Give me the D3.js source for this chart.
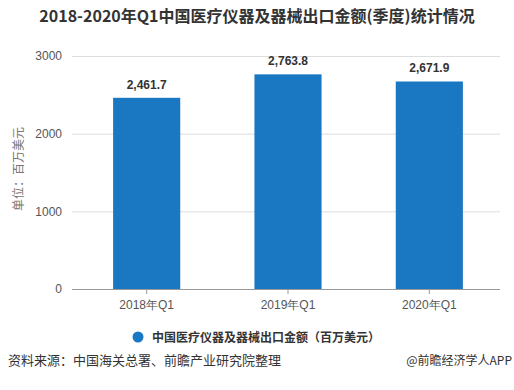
<!DOCTYPE html>
<html>
<head>
<meta charset="utf-8">
<script src="https://cdn.jsdelivr.net/npm/d3@7"></script>
<style>
  body { margin: 0; background: #fff; }
  svg { font-family: "Microsoft YaHei", "Noto Sans CJK SC", sans-serif; }
</style>
</head>
<body>
<div id="chart"></div>
<script>
// data
const categories = ["2018年Q1", "2019年Q1", "2020年Q1"];
const exportValues = [2461.7, 2763.8, 2671.9];
const yTicks = [0, 1000, 2000, 3000];
const seriesName = "中国医疗仪器及器械出口金额（百万美元）";

const W = 514, H = 390;
const plot = {left: 76, right: 500, top: 56, bottom: 289};
const barColor = "#1a78c2";

const svg = d3.select("#chart")
    .append("svg")
    .attr("width", W)
    .attr("height", H);

// title
svg.append("text")
    .attr("x", W / 2)
    .attr("y", 22)
    .attr("text-anchor", "middle")
    .style("font-size", "16px")
    .style("font-weight", "bold")
    .style("fill", "#333")
    .text("2018-2020年Q1中国医疗仪器及器械出口金额(季度)统计情况");

const x = d3.scaleBand()
    .domain(categories)
    .range([plot.left, plot.right])
    .paddingInner(0.525)
    .paddingOuter(0.2625);

const y = d3.scaleLinear()
    .domain([0, 3000])
    .range([plot.bottom, plot.top]);

// gridlines + left labels
const yAxis = svg.append("g")
    .attr("transform", "translate(" + plot.right + ",0)")
    .call(d3.axisLeft(y).tickValues(yTicks).tickFormat(d3.format("d"))
        .tickSize(plot.right - 72).tickPadding(10));
yAxis.select(".domain").remove();
yAxis.selectAll(".tick line").attr("stroke", "#ddd");
yAxis.selectAll(".tick text")
    .style("font-size", "12px")
    .style("fill", "#555")
    .style("font-family", "Arial, 'Liberation Sans', sans-serif");

// bars
svg.selectAll(".bar")
    .data(exportValues)
    .join("rect")
    .attr("class", "bar")
    .attr("x", (d, i) => x(categories[i]))
    .attr("y", d => y(d))
    .attr("width", x.bandwidth())
    .attr("height", d => y(0) - y(d))
    .attr("fill", barColor);

// value labels
svg.selectAll(".val")
    .data(exportValues)
    .join("text")
    .attr("class", "val")
    .attr("x", (d, i) => x(categories[i]) + x.bandwidth() / 2)
    .attr("y", d => y(d) - 9)
    .attr("text-anchor", "middle")
    .style("font-size", "12px")
    .style("font-weight", "bold")
    .style("fill", "#333")
    .style("font-family", "Arial, 'Liberation Sans', sans-serif")
    .text(d => d3.format(",.1f")(d));

// x axis
const xAxis = svg.append("g")
    .attr("transform", "translate(0," + plot.bottom + ")")
    .call(d3.axisBottom(x).tickSize(5).tickPadding(6).tickSizeOuter(0));
xAxis.select(".domain").attr("stroke", "#999").attr("d", "M72,0.5H" + plot.right);
xAxis.selectAll(".tick line").attr("stroke", "#999");
xAxis.selectAll(".tick text")
    .style("font-size", "12px")
    .style("fill", "#555");

// y axis title
svg.append("text")
    .attr("transform", "translate(23,169) rotate(-90)")
    .attr("text-anchor", "middle")
    .style("font-size", "12px")
    .style("fill", "#777")
    .text("单位：百万美元");

// legend
svg.append("circle")
    .attr("cx", 138)
    .attr("cy", 337)
    .attr("r", 5.5)
    .attr("fill", barColor);
svg.append("text")
    .attr("x", 152)
    .attr("y", 341.5)
    .style("font-size", "12px")
    .style("font-weight", "bold")
    .style("fill", "#333")
    .text(seriesName);

// footer
svg.append("text")
    .attr("x", 8)
    .attr("y", 365)
    .style("font-size", "13px")
    .style("fill", "#333")
    .text("资料来源：中国海关总署、前瞻产业研究院整理");
svg.append("text")
    .attr("x", 512)
    .attr("y", 365)
    .attr("text-anchor", "end")
    .style("font-size", "12px")
    .style("fill", "#333")
    .text("@前瞻经济学人APP");
</script>
</body>
</html>
